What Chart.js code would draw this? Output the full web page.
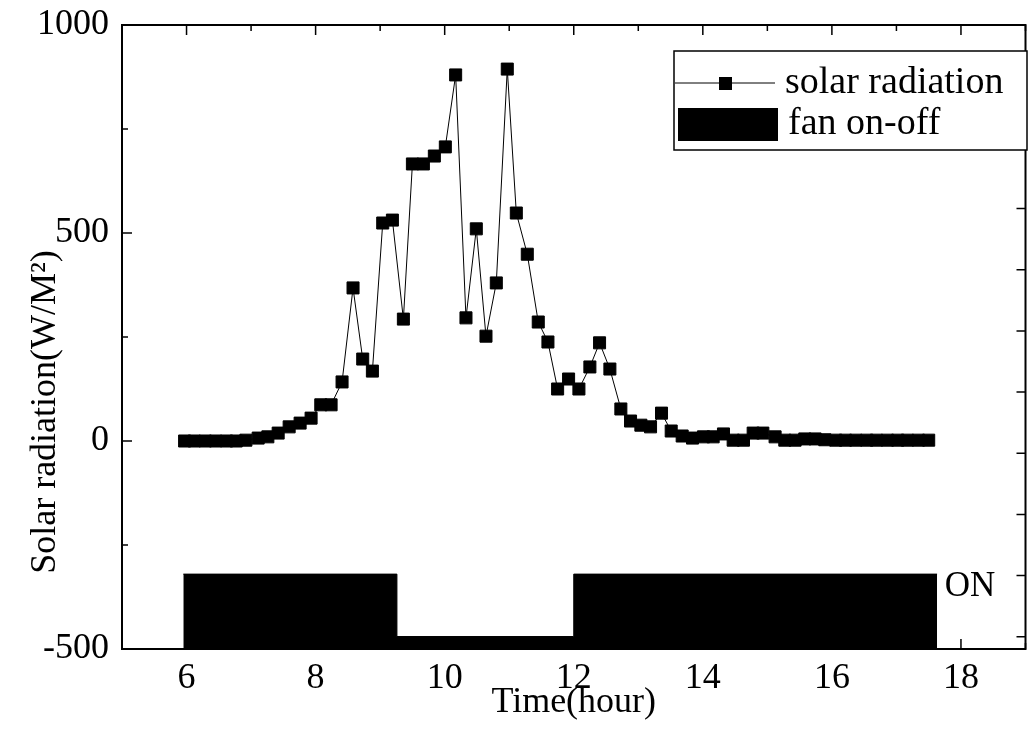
<!DOCTYPE html>
<html>
<head>
<meta charset="utf-8">
<script src="https://cdn.jsdelivr.net/npm/chart.js@4/dist/chart.umd.min.js"></script>
<style>
    html, body { margin: 0; padding: 0; background: #fff; }
    #wrap { width: 1035px; height: 737px; }
</style>
</head>
<body>
<div id="wrap"><canvas id="chartSolar"></canvas></div>
<script>
// solar radiation readings, time in hours
const solarTimes = [
    5.97, 6.12, 6.29, 6.45, 6.62, 6.77, 6.92, 7.11, 7.26, 7.42,
    7.59, 7.76, 7.93, 8.08, 8.24, 8.41, 8.58, 8.73, 8.88, 9.04,
    9.19, 9.36, 9.50, 9.67, 9.84, 10.01, 10.17, 10.33, 10.49, 10.64,
    10.80, 10.97, 11.11, 11.28, 11.45, 11.60, 11.75, 11.92, 12.08, 12.25,
    12.40, 12.56, 12.73, 12.88, 13.04, 13.19, 13.36, 13.51, 13.68, 13.84,
    14.01, 14.16, 14.32, 14.47, 14.63, 14.78, 14.93, 15.12, 15.27, 15.43,
    15.58, 15.74, 15.89, 16.06, 16.21, 16.37, 16.54, 16.69, 16.86, 17.02,
    17.17, 17.34, 17.50
];
const solarValues = [
    0, 0, 0, 0, 0, 0, 2, 7, 10, 19,
    34, 43, 55, 87, 87, 142, 368, 197, 168, 524,
    531, 293, 666, 666, 685, 707, 880, 296, 510, 252,
    380, 894, 548, 449, 286, 238, 125, 149, 125, 178,
    236, 173, 77, 48, 38, 34, 67, 24, 12, 7,
    10, 10, 17, 2, 2, 19, 19, 10, 2, 2,
    5, 5, 3, 2, 2, 2, 2, 2, 2, 2,
    2, 2, 2
];

// fan state drawn as a stepped band near the bottom
const fanTimes  = [5.95, 9.26, 12.0, 17.63];
const fanLevels = [-320, -470, -320, -320];

const xTicks = [6, 8, 10, 12, 14, 16, 18];
const yTicks = [-500, 0, 500, 1000];
const fanAxisTicks = [0, 1, 2, 3, 4, 5, 6, 7, 8, 9];

const xTitle = 'Time(hour)';
const yTitle = 'Solar radiation(W/M\u00B2)';
const onLabel = 'ON';

const FONT = 'Liberation Serif, Times New Roman, serif';

const frameTicks = {
    id: 'frameTicks',
    afterDraw(chart) {
        const { ctx, chartArea: a, scales } = chart;
        ctx.save();
        ctx.strokeStyle = '#000';
        ctx.lineWidth = 2;
        ctx.strokeRect(a.left, a.top, a.right - a.left, a.bottom - a.top);

        ctx.lineWidth = 1.5;
        ctx.beginPath();
        for (let h = 5; h <= 19; h++) {
            const px = scales.x.getPixelForValue(h);
            const len = xTicks.includes(h) ? 10 : 6;
            ctx.moveTo(px, a.bottom); ctx.lineTo(px, a.bottom - len);
            ctx.moveTo(px, a.top);    ctx.lineTo(px, a.top + len);
        }
        for (let v = -500; v <= 1000; v += 250) {
            const py = scales.y.getPixelForValue(v);
            const len = yTicks.includes(v) ? 10 : 6;
            ctx.moveTo(a.left, py); ctx.lineTo(a.left + len, py);
        }
        fanAxisTicks.forEach(t => {
            const py = scales.y2.getPixelForValue(t);
            ctx.moveTo(a.right, py); ctx.lineTo(a.right - 9, py);
        });
        ctx.stroke();

        // y axis title
        ctx.fillStyle = '#000';
        ctx.font = '36px ' + FONT;
        ctx.textAlign = 'center';
        ctx.textBaseline = 'middle';
        ctx.save();
        ctx.translate(46, 412);
        ctx.rotate(-Math.PI / 2);
        ctx.fillText(yTitle, 0, 0);
        ctx.restore();

        // ON marker for fan band
        ctx.textAlign = 'left';
        ctx.font = '35px ' + FONT;
        ctx.fillText(onLabel, scales.x.getPixelForValue(17.75), scales.y.getPixelForValue(-350));

        // legend box
        const lx = 674, ly = 51, lw = 353, lh = 99;
        ctx.fillStyle = '#fff';
        ctx.fillRect(lx, ly, lw, lh);
        ctx.lineWidth = 1.5;
        ctx.strokeRect(lx, ly, lw, lh);

        const ds = chart.data.datasets;
        ctx.lineWidth = 1;
        ctx.beginPath();
        ctx.moveTo(lx + 1, 83); ctx.lineTo(lx + 101, 83);
        ctx.stroke();
        ctx.fillStyle = '#000';
        ctx.fillRect(lx + 45, 77, 13, 13);
        ctx.font = '38px ' + FONT;
        ctx.fillText(ds[0].label, lx + 111, 83);

        ctx.fillRect(lx + 4, 108, 100, 33);
        ctx.fillText(ds[1].label, lx + 114, 124);
        ctx.restore();
    }
};

new Chart(document.getElementById('chartSolar'), {
    type: 'line',
    data: {
        datasets: [
            {
                label: 'solar radiation',
                data: solarTimes.map((t, i) => ({ x: t, y: solarValues[i] })),
                borderColor: '#000',
                borderWidth: 1,
                backgroundColor: '#000',
                pointStyle: 'rect',
                pointRadius: 8.5,
                pointBorderWidth: 1,
                pointBackgroundColor: '#000',
                pointBorderColor: '#000',
                tension: 0
            },
            {
                label: 'fan on-off',
                data: fanTimes.map((t, i) => ({ x: t, y: fanLevels[i] })),
                stepped: 'before',
                borderColor: '#000',
                borderWidth: 1,
                backgroundColor: '#000',
                fill: 'start',
                pointRadius: 0
            }
        ]
    },
    options: {
        responsive: true,
        maintainAspectRatio: false,
        animation: false,
        events: [],
        layout: { padding: { top: 25, right: 7, left: 0, bottom: 0 } },
        plugins: {
            legend: { display: false },
            tooltip: { enabled: false }
        },
        scales: {
            x: {
                type: 'linear',
                min: 5,
                max: 19,
                grid: { display: false, drawTicks: false },
                border: { display: false },
                ticks: {
                    stepSize: 1,
                    autoSkip: false,
                    maxRotation: 0,
                    padding: 8,
                    color: '#000',
                    font: { family: FONT, size: 36 },
                    callback: v => xTicks.includes(v) ? String(v) : ''
                },
                title: {
                    display: true,
                    text: xTitle,
                    color: '#000',
                    font: { family: FONT, size: 36 },
                    padding: { top: 0, bottom: 13 }
                },
                afterFit: s => { s.height = 88; s.paddingLeft = 0; s.paddingRight = 0; }
            },
            y: {
                min: -500,
                max: 1000,
                grid: { display: false, drawTicks: false },
                border: { display: false },
                ticks: {
                    stepSize: 250,
                    padding: 13,
                    color: '#000',
                    font: { family: FONT, size: 36 },
                    callback: v => yTicks.includes(v) ? String(v) : ''
                },
                afterFit: s => { s.width = 122; s.paddingTop = 0; s.paddingBottom = 0; }
            },
            y2: {
                display: false,
                position: 'right',
                min: -0.2,
                max: 10.0
            }
        }
    },
    plugins: [frameTicks]
});
</script>
</body>
</html>
